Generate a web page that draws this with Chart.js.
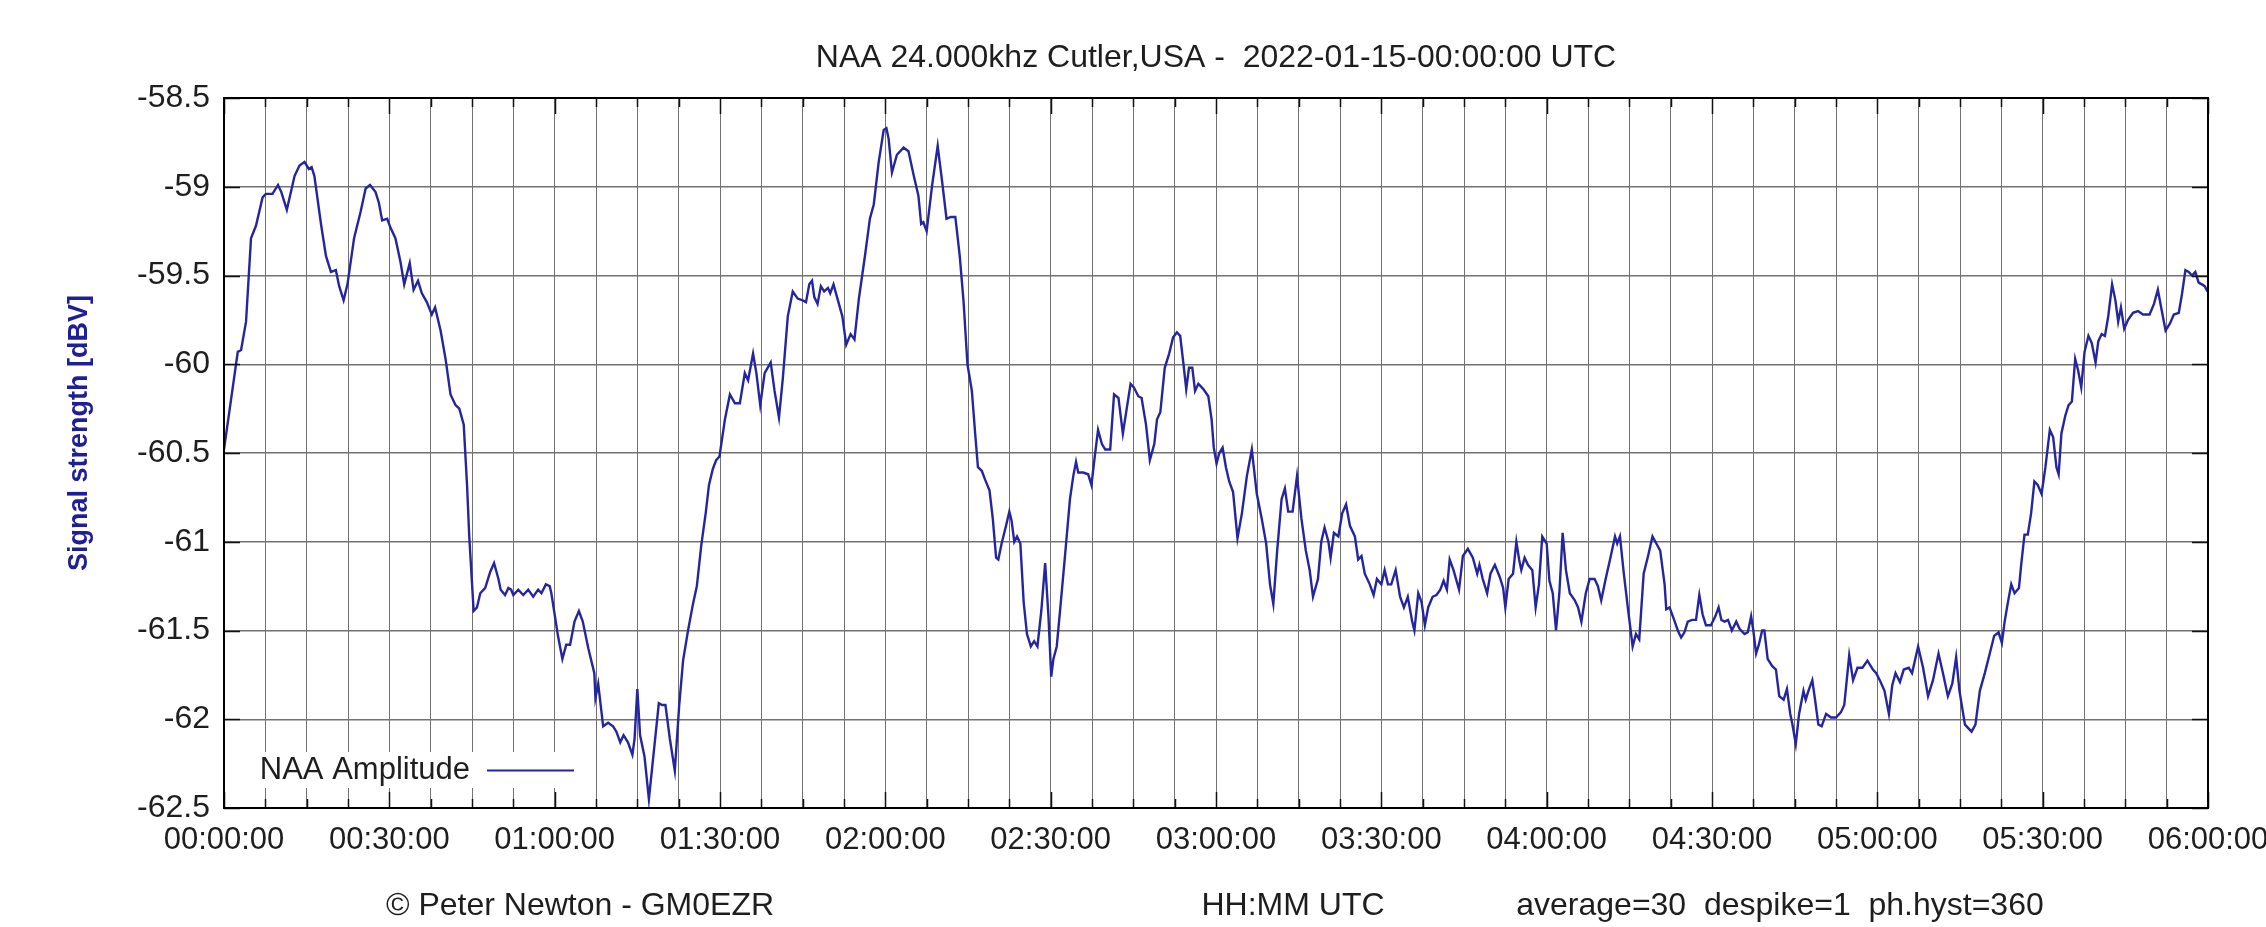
<!DOCTYPE html>
<html>
<head>
<meta charset="utf-8">
<script src="https://cdn.jsdelivr.net/npm/chart.js@4/dist/chart.umd.min.js"></script>
<style>
  html, body { margin: 0; padding: 0; background: #ffffff; overflow: hidden; }
  #wrap { position: relative; width: 2266px; height: 927px; }
</style>
</head>
<body>
<div id="wrap"><canvas id="c" width="2266" height="927"></canvas></div>
<script>
// ---- text ----
const chartTitle = 'NAA 24.000khz Cutler,USA -  2022-01-15-00:00:00 UTC';
const seriesLabel = 'NAA Amplitude';
const yAxisTitle = 'Signal strength [dBV]';
const xAxisTitle = 'HH:MM UTC';
const creditText = '\u00A9 Peter Newton - GM0EZR';
const paramsText = 'average=30  despike=1  ph.hyst=360';

// ---- axes ----
const timeTickLabels = ['00:00:00', '00:30:00', '01:00:00', '01:30:00', '02:00:00', '02:30:00', '03:00:00',
                        '03:30:00', '04:00:00', '04:30:00', '05:00:00', '05:30:00', '06:00:00'];
const yTickLabels = ['-62.5', '-62', '-61.5', '-61', '-60.5', '-60', '-59.5', '-59', '-58.5'];

// ---- series: minutes after 00:00 UTC and amplitude in dBV ----
const minutes = [
  0, 1.0, 2.5, 3.1, 4.0, 4.9, 5.8, 7.0, 7.6, 8.8, 9.8, 10.4, 11.4, 12.8, 13.7, 14.6, 15.4, 15.9, 16.4, 17.6,
  18.5, 19.4, 20.3, 20.9, 21.7, 22.4, 23.6, 24.8, 25.7, 26.5, 27.5, 28.1, 28.7, 29.6, 30.2, 31.1, 32.0, 32.7, 33.7, 34.4,
  35.2, 35.9, 36.8, 37.7, 38.3, 39.3, 40.2, 41.1, 42.0, 42.7, 43.5, 44.1, 44.5, 45.3, 45.9, 46.5, 47.4, 48.3, 49.0, 49.8,
  50.2, 51.0, 51.6, 52.1, 52.5, 53.4, 54.3, 55.2, 56.1, 57.0, 57.6, 58.4, 59.1, 59.4, 60.6, 61.4, 62.1, 62.8, 63.6, 64.4,
  65.1, 66.1, 67.2, 67.4, 67.9, 68.8, 69.7, 70.6, 71.2, 71.9, 72.5, 73.3, 74.1, 74.5, 75.0, 75.5, 76.3, 77.1, 78.0, 78.9,
  79.5, 80.1, 80.9, 81.8, 82.6, 83.3, 84.2, 85.1, 85.8, 86.6, 87.4, 88.0, 88.7, 89.3, 89.9, 90.9, 91.8, 92.7, 93.6, 94.5,
  95.1, 96.0, 96.6, 97.3, 98.1, 99.2, 99.9, 100.7, 101.4, 102.3, 103.2, 104.1, 105.0, 105.6, 106.2, 106.7, 107.1, 107.7, 108.3, 108.9,
  109.6, 110.0, 110.6, 111.4, 112.2, 112.9, 113.7, 114.4, 115.2, 116.3, 117.2, 117.9, 118.8, 119.7, 120.2, 120.6, 121.2, 122.1, 123.3, 124.2,
  125.1, 126.0, 126.5, 126.9, 127.5, 128.5, 129.5, 130.3, 131.1, 131.9, 132.7, 133.5, 134.2, 134.9, 135.7, 136.3, 136.8, 137.5, 138.1, 138.9,
  139.5, 140.1, 140.5, 141.1, 141.9, 142.5, 142.9, 143.4, 143.9, 144.5, 145.1, 145.7, 146.4, 147.0, 147.6, 148.3, 149.0, 149.6, 150.1, 150.5,
  151.1, 151.7, 152.6, 153.5, 154.1, 154.6, 155.0, 155.9, 156.8, 157.4, 158.0, 158.6, 159.3, 159.9, 160.8, 161.5, 162.3, 163.1, 163.8, 164.5,
  165.1, 165.9, 166.5, 167.3, 168.0, 168.8, 169.3, 169.9, 170.7, 171.5, 172.2, 172.9, 173.5, 174.1, 174.6, 175.1, 175.7, 176.2, 176.8, 177.7,
  178.6, 179.2, 179.6, 180.1, 180.6, 181.2, 181.8, 182.4, 183.1, 183.9, 184.7, 185.6, 186.5, 187.4, 188.3, 189.1, 189.8, 190.4, 191.1, 191.9,
  192.5, 193.1, 193.9, 194.7, 195.5, 196.3, 197.0, 197.6, 198.5, 199.1, 199.7, 200.4, 200.8, 201.4, 202.2, 202.9, 203.6, 204.3, 205.2, 205.8,
  206.4, 207.0, 207.9, 208.6, 209.2, 210.0, 210.6, 211.2, 211.8, 212.6, 213.4, 214.1, 214.8, 215.6, 216.0, 216.7, 217.3, 217.9, 218.5, 219.3,
  220.0, 220.7, 221.3, 221.9, 222.4, 223.1, 224.1, 224.8, 225.7, 226.6, 227.4, 227.8, 228.4, 229.2, 229.8, 230.6, 231.5, 232.1, 232.5, 233.1,
  233.9, 234.5, 235.0, 235.4, 236.0, 236.6, 237.4, 238.0, 238.6, 239.2, 240.0, 240.5, 241.1, 241.7, 242.3, 242.9, 243.5, 244.2, 245.1, 245.7,
  246.3, 247.1, 247.8, 248.7, 249.3, 249.9, 250.7, 251.5, 252.4, 252.8, 253.3, 254.0, 254.8, 255.6, 256.2, 256.8, 257.6, 258.4, 259.2, 259.9,
  260.6, 261.4, 261.7, 262.3, 262.9, 263.8, 264.4, 265.0, 265.6, 266.4, 267.1, 267.7, 268.3, 268.9, 269.8, 270.6, 271.2, 271.7, 272.3, 272.9,
  273.6, 274.4, 275.0, 275.9, 276.5, 277.1, 277.5, 278.0, 278.5, 279.1, 279.5, 280.1, 280.9, 281.6, 282.2, 283.0, 283.6, 284.2, 284.6, 285.2,
  285.8, 286.6, 287.0, 287.5, 288.2, 288.7, 289.3, 289.9, 290.7, 291.6, 292.5, 293.4, 294.0, 294.9, 295.6, 296.4, 297.3, 298.2, 299.2, 299.8,
  300.6, 301.3, 302.1, 302.7, 303.3, 304.1, 304.8, 305.7, 306.3, 307.4, 308.3, 309.2, 310.1, 311.1, 311.9, 312.8, 313.6, 314.3, 314.9, 315.9,
  317.1, 317.8, 318.6, 319.5, 320.4, 321.2, 322.0, 322.6, 323.1, 323.7, 324.3, 324.9, 325.7, 326.1, 326.7, 327.3, 327.9, 328.5, 329.1, 329.8,
  330.5, 331.3, 331.9, 332.5, 332.9, 333.4, 334.1, 334.7, 335.3, 335.9, 336.4, 337.0, 337.6, 338.3, 338.9, 339.6, 340.1, 340.7, 341.3, 341.9,
  342.6, 343.2, 343.7, 344.2, 344.8, 345.5, 346.4, 347.3, 348.2, 349.4, 350.2, 350.9, 351.5, 352.3, 353.1, 353.8, 354.7, 355.3, 355.9, 356.5,
  357.1, 357.7, 358.3, 358.9, 359.4, 359.9
];
const amplitude = [
  -60.48, -60.26, -59.93, -59.92, -59.76, -59.29, -59.22, -59.06, -59.04, -59.04, -58.99, -59.03, -59.13, -58.94, -58.88, -58.86, -58.90, -58.89, -58.94, -59.21,
  -59.39, -59.48, -59.47, -59.56, -59.64, -59.55, -59.29, -59.14, -59.01, -58.99, -59.03, -59.09, -59.19, -59.18, -59.23, -59.29, -59.42, -59.55, -59.43, -59.58,
  -59.53, -59.60, -59.65, -59.72, -59.68, -59.81, -59.97, -60.17, -60.23, -60.25, -60.34, -60.68, -60.97, -61.39, -61.37, -61.29, -61.26, -61.17, -61.12, -61.21,
  -61.27, -61.30, -61.26, -61.27, -61.30, -61.27, -61.30, -61.27, -61.31, -61.27, -61.29, -61.24, -61.25, -61.29, -61.53, -61.66, -61.58, -61.58, -61.45, -61.39,
  -61.45, -61.60, -61.74, -61.88, -61.80, -62.04, -62.02, -62.04, -62.07, -62.13, -62.09, -62.13, -62.20, -62.11, -61.83, -62.09, -62.21, -62.45, -62.18, -61.91,
  -61.92, -61.92, -62.11, -62.29, -61.92, -61.67, -61.50, -61.35, -61.25, -61.02, -60.84, -60.68, -60.59, -60.54, -60.52, -60.31, -60.17, -60.22, -60.22, -60.05,
  -60.09, -59.94, -60.05, -60.23, -60.05, -59.99, -60.15, -60.30, -60.08, -59.73, -59.59, -59.63, -59.64, -59.65, -59.55, -59.53, -59.62, -59.66, -59.56, -59.59,
  -59.57, -59.60, -59.55, -59.64, -59.73, -59.89, -59.83, -59.86, -59.63, -59.39, -59.18, -59.10, -58.86, -58.68, -58.67, -58.73, -58.92, -58.82, -58.78, -58.80,
  -58.93, -59.05, -59.21, -59.20, -59.25, -58.99, -58.77, -58.97, -59.18, -59.17, -59.17, -59.39, -59.65, -60.00, -60.15, -60.39, -60.58, -60.60, -60.65, -60.71,
  -60.87, -61.09, -61.10, -61.01, -60.91, -60.83, -60.88, -61.00, -60.97, -61.01, -61.34, -61.52, -61.59, -61.56, -61.59, -61.39, -61.12, -61.42, -61.76, -61.66,
  -61.59, -61.39, -61.08, -60.76, -60.63, -60.55, -60.61, -60.61, -60.62, -60.68, -60.52, -60.37, -60.45, -60.48, -60.48, -60.17, -60.19, -60.39, -60.25, -60.11,
  -60.13, -60.18, -60.19, -60.34, -60.54, -60.45, -60.31, -60.27, -60.02, -59.94, -59.85, -59.82, -59.84, -60.00, -60.14, -60.02, -60.02, -60.15, -60.11, -60.14,
  -60.18, -60.31, -60.47, -60.56, -60.50, -60.47, -60.58, -60.66, -60.72, -60.98, -60.84, -60.63, -60.48, -60.73, -60.87, -61.01, -61.24, -61.35, -61.05, -60.76,
  -60.70, -60.83, -60.83, -60.63, -60.87, -61.05, -61.16, -61.31, -61.21, -61.00, -60.92, -61.00, -61.09, -60.95, -60.97, -60.84, -60.79, -60.91, -60.97, -61.10,
  -61.08, -61.18, -61.24, -61.30, -61.21, -61.24, -61.16, -61.24, -61.24, -61.16, -61.31, -61.37, -61.31, -61.45, -61.50, -61.29, -61.34, -61.47, -61.37, -61.31,
  -61.30, -61.27, -61.22, -61.27, -61.10, -61.16, -61.27, -61.08, -61.04, -61.09, -61.18, -61.13, -61.21, -61.29, -61.18, -61.13, -61.20, -61.26, -61.37, -61.21,
  -61.18, -61.00, -61.10, -61.16, -61.09, -61.13, -61.16, -61.37, -61.24, -60.97, -61.01, -61.22, -61.29, -61.50, -61.29, -60.95, -61.16, -61.29, -61.33, -61.37,
  -61.45, -61.29, -61.21, -61.21, -61.25, -61.33, -61.21, -61.10, -60.97, -61.01, -60.97, -61.18, -61.39, -61.59, -61.52, -61.55, -61.18, -61.08, -60.97, -61.01,
  -61.05, -61.24, -61.38, -61.37, -61.42, -61.50, -61.54, -61.51, -61.45, -61.44, -61.44, -61.30, -61.41, -61.47, -61.47, -61.42, -61.37, -61.44, -61.45, -61.44,
  -61.50, -61.45, -61.49, -61.52, -61.51, -61.42, -61.50, -61.63, -61.58, -61.50, -61.50, -61.66, -61.70, -61.72, -61.87, -61.89, -61.83, -61.97, -62.03, -62.14,
  -61.97, -61.84, -61.89, -61.84, -61.78, -61.89, -62.03, -62.04, -61.97, -61.99, -61.99, -61.96, -61.92, -61.64, -61.78, -61.71, -61.71, -61.67, -61.72, -61.74,
  -61.79, -61.84, -61.97, -61.81, -61.74, -61.79, -61.72, -61.71, -61.74, -61.59, -61.71, -61.87, -61.78, -61.63, -61.74, -61.87, -61.80, -61.65, -61.84, -62.03,
  -62.07, -62.03, -61.84, -61.74, -61.63, -61.53, -61.51, -61.57, -61.45, -61.34, -61.24, -61.29, -61.26, -61.13, -60.96, -60.96, -60.84, -60.66, -60.68, -60.73,
  -60.58, -60.37, -60.41, -60.58, -60.62, -60.39, -60.29, -60.23, -60.21, -59.97, -60.03, -60.13, -59.93, -59.84, -59.88, -59.99, -59.87, -59.83, -59.84, -59.73,
  -59.55, -59.64, -59.76, -59.68, -59.80, -59.75, -59.71, -59.70, -59.72, -59.72, -59.66, -59.58, -59.68, -59.81, -59.77, -59.72, -59.71, -59.60, -59.47, -59.48,
  -59.50, -59.48, -59.54, -59.55, -59.56, -59.59
];

// ---- look ----
const FONT = '"Liberation Sans", Arial, sans-serif';
const TEXT_COLOR = '#1e1e1e';
const LINE_COLOR = '#2525a0';
const GRID_COLOR = '#737373';

const points = minutes.map((m, i) => ({ x: m, y: amplitude[i] }));

function isMultiple(v, step) {
  const q = v / step;
  return Math.abs(q - Math.round(q)) < 1e-6;
}

// frame, inward tick marks, key box and free text
const decorations = {
  id: 'decorations',
  beforeDatasetsDraw(chart) {
    const { ctx, chartArea: a } = chart;
    // key box blanks the grid behind the key
    ctx.save();
    ctx.fillStyle = '#ffffff';
    ctx.fillRect(a.left + 1, 752, 356, 36);
    ctx.restore();
  },
  afterDatasetsDraw(chart) {
    const { ctx, chartArea: a, scales } = chart;
    const xs = scales.x, ys = scales.y;
    ctx.save();
    ctx.strokeStyle = '#111111';
    ctx.lineWidth = 1.5;
    ctx.beginPath();
    xs.ticks.forEach(t => {
      const px = Math.round(xs.getPixelForValue(t.value)) + 0.5;
      const len = isMultiple(t.value, 30) ? 16 : 9;
      ctx.moveTo(px, a.bottom); ctx.lineTo(px, a.bottom - len);
      ctx.moveTo(px, a.top); ctx.lineTo(px, a.top + len);
    });
    ys.ticks.forEach(t => {
      const py = Math.round(ys.getPixelForValue(t.value)) + 0.5;
      ctx.moveTo(a.left, py); ctx.lineTo(a.left + 16, py);
      ctx.moveTo(a.right, py); ctx.lineTo(a.right - 16, py);
    });
    ctx.stroke();
    // border
    ctx.lineWidth = 2;
    ctx.strokeStyle = '#000000';
    ctx.strokeRect(a.left, a.top, a.right - a.left, a.bottom - a.top);

    // key
    ctx.font = '31px ' + FONT;
    ctx.fillStyle = TEXT_COLOR;
    ctx.textAlign = 'right';
    ctx.textBaseline = 'middle';
    ctx.fillText(chart.data.datasets[0].label, 470, 770);
    ctx.strokeStyle = LINE_COLOR;
    ctx.lineWidth = 1.8;
    ctx.beginPath();
    ctx.moveTo(487, 770.5); ctx.lineTo(574, 770.5);
    ctx.stroke();
    ctx.restore();
  },
  afterDraw(chart) {
    const { ctx, chartArea: a } = chart;
    ctx.save();
    ctx.fillStyle = TEXT_COLOR;
    ctx.textBaseline = 'middle';
    ctx.textAlign = 'center';
    ctx.font = '32px ' + FONT;
    ctx.fillText(chartTitle, (a.left + a.right) / 2, 58);

    ctx.font = '32px ' + FONT;
    ctx.fillText(creditText, 580, 906);
    ctx.fillText(xAxisTitle, 1293, 906);
    ctx.fillText(paramsText, 1780, 906);

    // y axis title
    ctx.save();
    ctx.translate(80, 433);
    ctx.rotate(-Math.PI / 2);
    ctx.font = 'bold 27px ' + FONT;
    ctx.fillStyle = '#1e1e98';
    ctx.fillText(yAxisTitle, 0, 0);
    ctx.restore();
    ctx.restore();
  }
};

new Chart(document.getElementById('c'), {
  type: 'line',
  data: {
    datasets: [{
      label: seriesLabel,
      data: points,
      borderColor: LINE_COLOR,
      borderWidth: 2.4,
      pointRadius: 0,
      tension: 0,
      fill: false
    }]
  },
  options: {
    responsive: false,
    animation: false,
    devicePixelRatio: 1,
    layout: { padding: { left: 0, right: 58, top: 98, bottom: 0 } },
    plugins: {
      legend: { display: false },
      title: { display: false },
      tooltip: { enabled: false }
    },
    scales: {
      x: {
        type: 'linear',
        min: 0,
        max: 360,
        border: { display: false },
        grid: { color: GRID_COLOR, lineWidth: 1, drawTicks: false },
        ticks: {
          stepSize: 7.5,
          autoSkip: false,
          maxRotation: 0,
          minRotation: 0,
          padding: 14,
          color: TEXT_COLOR,
          font: { family: FONT, size: 31 },
          callback: v => isMultiple(v, 30) ? timeTickLabels[Math.round(v / 30)] : ''
        },
        afterFit: s => { s.height = 119; s.paddingLeft = 0; s.paddingRight = 0; }
      },
      y: {
        min: -62.5,
        max: -58.5,
        border: { display: false },
        grid: { color: GRID_COLOR, lineWidth: 1.5, drawTicks: false },
        ticks: {
          stepSize: 0.5,
          padding: 14,
          color: TEXT_COLOR,
          font: { family: FONT, size: 32 },
          callback: v => yTickLabels[Math.round((v + 62.5) / 0.5)]
        },
        afterFit: s => { s.width = 224; s.paddingTop = 0; s.paddingBottom = 0; }
      }
    }
  },
  plugins: [decorations]
});
</script>
</body>
</html>
